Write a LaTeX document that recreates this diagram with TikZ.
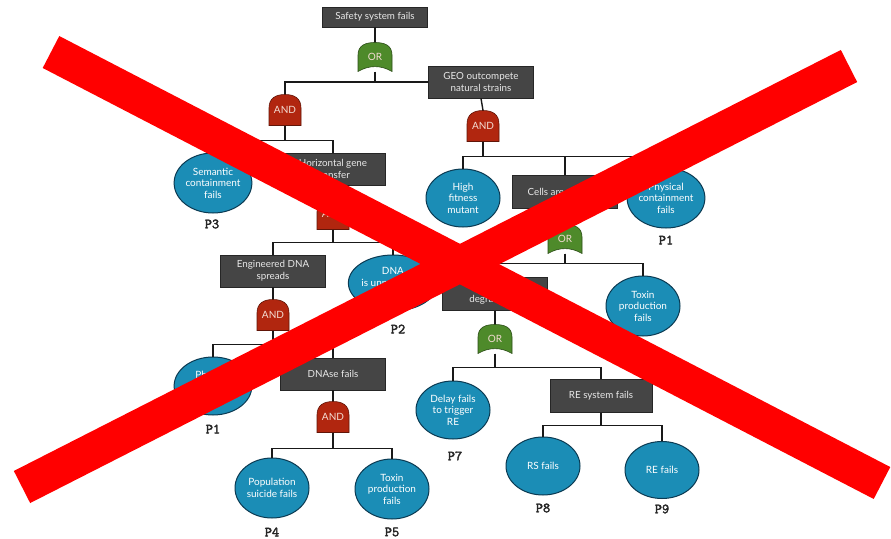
\documentclass[tikz,border=0pt]{standalone}
\usepackage{fontspec}
\setmainfont{Lato}
\newfontfamily\pfont[AutoFakeBold=2.5]{Latin Modern Mono}
\usetikzlibrary{shapes.geometric}
\definecolor{boxgray}{HTML}{454545}
\definecolor{ellblue}{HTML}{1B8DB6}
\definecolor{elledge}{HTML}{0B3A52}
\definecolor{andred}{HTML}{B1260F}
\definecolor{orgreen}{HTML}{4E8A2A}
\definecolor{xred}{HTML}{FF0000}
\definecolor{gatetext}{HTML}{F3DCD2}
\definecolor{boxtext}{HTML}{E8E8E8}
\newcommand\andgate[2]{%
  \begin{scope}[shift={(#2)}]
    \filldraw[andred, draw=andred!55!black, line width=0.6pt] (-16,15.5) -- (-16,-2) .. controls (-16,-12) and (-9,-15.5) .. (0,-15.5) .. controls (9,-15.5) and (16,-12) .. (16,-2) -- (16,15.5) -- cycle;
  \end{scope}
  \node[gate] (#1) at (#2) {\raisebox{-2pt}{AND}};}
\newcommand\orgate[2]{%
  \begin{scope}[shift={(#2)}]
    \filldraw[orgreen, draw=orgreen!55!black, line width=0.6pt] (-17,14.5) -- (-17,-2) .. controls (-17,-12) and (-9,-14.5) .. (0,-14.5) .. controls (9,-14.5) and (17,-12) .. (17,-2) -- (17,14.5) .. controls (6,8) and (-6,8) .. (-17,14.5) -- cycle;
  \end{scope}
  \node[gate, minimum height=29pt] (#1) at (#2) {\raisebox{-1pt}{OR}};}
\newcommand\branch[3]{\draw[conn] (#1.south) -- ++(0,#2) -| (#3.north);}
\begin{document}
\begin{tikzpicture}[x=1pt,y=-1pt,
  box/.style={rectangle, fill=boxgray, draw=black!85, line width=0.8pt, text=boxtext, minimum width=105pt, minimum height=32pt, inner sep=0pt, align=center, font=\fontsize{9.8}{11.8}\selectfont},
  ell/.style={ellipse, fill=ellblue, draw=elledge, line width=1pt, text=white, inner sep=0pt, align=center, minimum width=74pt, minimum height=58pt, font=\fontsize{10}{11.6}\selectfont},
  gate/.style={rectangle, minimum width=34pt, minimum height=31pt, inner sep=0pt, text=gatetext, font=\fontsize{10}{11}\selectfont},
  plab/.style={font=\pfont\bfseries\fontsize{14}{14}\selectfont, text=black!85},
  conn/.style={line width=1.4pt, draw=black!90},
  xstroke/.style={draw=xred, line width=36pt}
]
\useasboundingbox (0,0) rectangle (891,538);
\fill[white] (0,0) rectangle (891,538);

% boxes
\node[box, minimum height=20pt] (top) at (375,17) {Safety system fails};
\node[box] (geo) at (481,82) {GEO outcompete\\natural strains};
\node[box] (hgt) at (333,169) {Horizontal gene\\transfer};
\node[box] (eng) at (273,271) {Engineered DNA\\spreads};
\node[box] (dnase) at (333,374) {DNAse fails};
\node[box, minimum height=33pt] (cells) at (565,192) {Cells are selected};
\node[box, minimum height=33pt] (ndeg) at (495,294) {Nuclease\\degradation};
\node[box, minimum height=33pt, minimum width=102pt] (resys) at (601,396) {RE system fails};

% gates
\orgate{or1}{375,57}
\andgate{and1}{285,110}
\andgate{and2}{333,214}
\andgate{and3}{273,315}
\andgate{and4}{333,417}
\andgate{and5}{483,126}
\orgate{or2}{565,239}
\orgate{or3}{495,339}

% events
\node[ell, minimum height=60pt] (sem) at (213,183) {Semantic\\containment\\fails};
\node[ell, minimum height=56pt, minimum width=72pt] (dnaun) at (393,283) {DNA\\is unprotected\\outside};
\node[ell] (phys1) at (213,386) {Physical\\containment\\fails};
\node[ell, minimum height=60pt] (pop) at (272,488) {Population\\suicide fails};
\node[ell, minimum height=60pt] (tox1) at (392,489) {Toxin\\production\\fails};
\node[ell] (hfm) at (463,198) {High\\fitness\\mutant};
\node[ell, minimum height=60pt, minimum width=70pt] (phys2) at (666,198) {Physical\\containment\\fails};
\node[ell, minimum height=60pt] (tox2) at (643,306) {Toxin\\production\\fails};
\node[ell] (delay) at (453,410) {Delay fails\\to trigger\\RE};
\node[ell] (rs) at (543,466) {RS fails};
\node[ell, minimum height=57pt] (ref) at (662,470) {RE fails};

% labels
\node[plab] (p3) at (212,224) {P3};
\node[plab] (p2) at (398,329) {P2};
\node[plab] (p1a) at (213,429) {P1};
\node[plab] (p4) at (272,532) {P4};
\node[plab] (p5) at (392,532) {P5};
\node[plab] (p1b) at (666,240) {P1};
\node[plab] (p7) at (455,456) {P7};
\node[plab] (p8) at (543,508) {P8};
\node[plab] (p9) at (662,509) {P9};

% connectors
\draw[conn] (top.south) -- (or1.north);
\draw[conn] (or1.south) |- (geo.west);
\draw[conn] (geo.west) -| (and1.north);
\branch{and1}{14.5}{sem}
\branch{and1}{14.5}{hgt}
\draw[conn] (hgt.south) -- (and2.north);
\branch{and2}{12.5}{eng}
\branch{and2}{12.5}{dnaun}
\draw[conn] (eng.south) -- (and3.north);
\branch{and3}{13.5}{phys1}
\branch{and3}{13.5}{dnase}
\draw[conn] (dnase.south) -- (and4.north);
\branch{and4}{15.5}{pop}
\branch{and4}{15.5}{tox1}
\draw[conn] (geo.south) -- (and5.north);
\branch{and5}{14.5}{hfm}
\branch{and5}{14.5}{cells}
\branch{and5}{14.5}{phys2}
\draw[conn] (cells.south) -- (or2.north);
\branch{or2}{9.5}{ndeg}
\branch{or2}{9.5}{tox2}
\draw[conn] (ndeg.south) -- (or3.north);
\branch{or3}{13.5}{delay}
\branch{or3}{13.5}{resys}
\branch{resys}{12.5}{rs}
\branch{resys}{12.5}{ref}

% red cross
\coordinate (xa1) at (51,52);
\coordinate (xa2) at (882,483);
\coordinate (xb1) at (849,66);
\coordinate (xb2) at (22,487);
\draw[xstroke] (xa1) -- (xa2);
\draw[xstroke] (xb1) -- (xb2);
\end{tikzpicture}
\end{document}
